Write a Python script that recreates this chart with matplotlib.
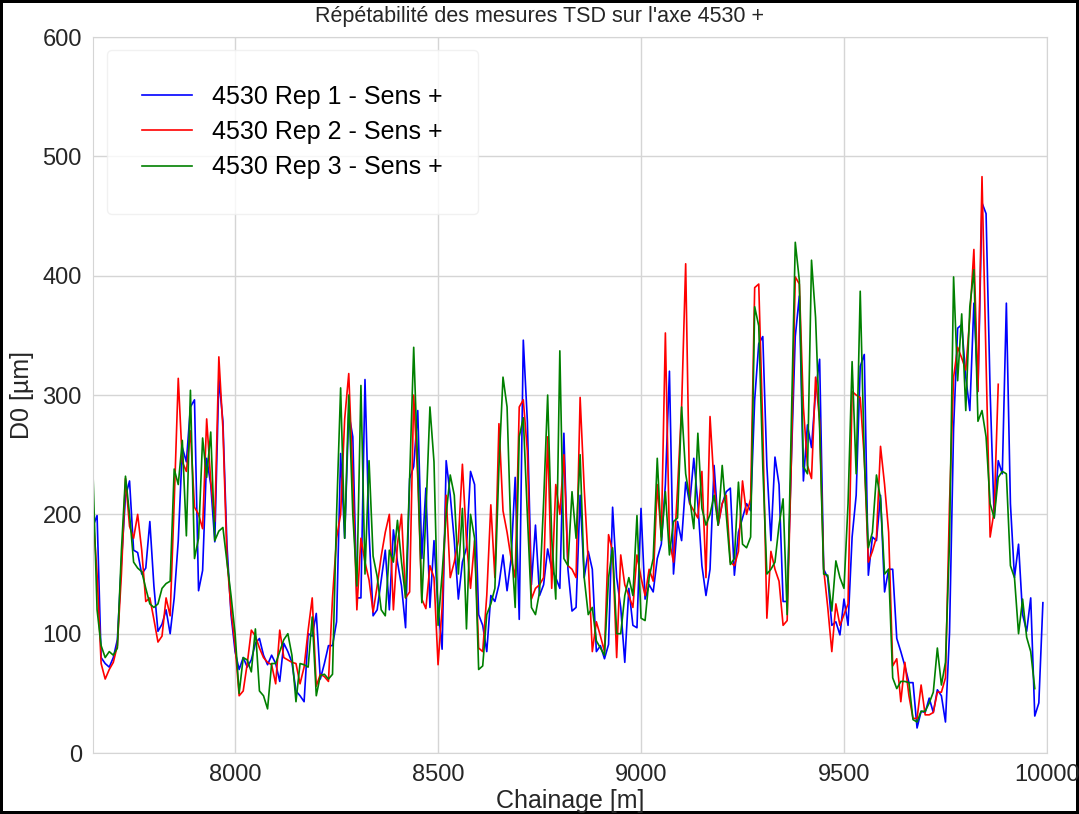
import matplotlib
matplotlib.use("Agg")
import numpy as np
import matplotlib.pyplot as plt

# chainage step of 10 m starting at 7650 m
start = 7650
step = 10

rep1 = [190, 199, 80, 75, 72, 80, 95, 160, 215, 228,
        170, 168, 150, 155, 194, 140, 102, 108, 120, 100,
        130, 178, 256, 244, 290, 296, 136, 153, 247, 225,
        177, 314, 278, 174, 116, 85, 70, 80, 72, 78,
        92, 96, 82, 74, 82, 75, 60, 92, 85, 76,
        52, 48, 43, 100, 98, 117, 62, 75, 90, 90,
        110, 251, 180, 285, 265, 130, 130, 313, 185, 115,
        120, 145, 170, 120, 187, 160, 140, 105, 230, 240,
        287, 163, 222, 122, 178, 122, 87, 245, 216, 178,
        129, 160, 172, 236, 225, 116, 107, 85, 132, 127,
        141, 166, 136, 163, 231, 112, 346, 278, 141, 191,
        132, 141, 171, 154, 147, 138, 268, 154, 119, 122,
        216, 147, 169, 154, 85, 90, 79, 91, 206, 147,
        122, 76, 138, 107, 105, 205, 129, 141, 135, 163,
        175, 225, 320, 150, 194, 178, 227, 209, 247, 209,
        157, 132, 154, 241, 191, 209, 219, 222, 149, 185,
        197, 209, 203, 296, 343, 349, 241, 178, 248, 225,
        127, 127, 241, 349, 383, 228, 275, 256, 303, 330,
        154, 147, 107, 110, 99, 129, 107, 181, 216, 324,
        334, 149, 181, 178, 216, 135, 154, 154, 96, 85,
        73, 59, 59, 21, 35, 34, 46, 34, 53, 48,
        26, 101, 272, 356, 359, 315, 287, 377, 303, 461,
        452, 303, 197, 245, 234, 377, 209, 147, 175, 116,
        102, 130, 31, 42, 126]

rep2 = [200, 150, 75, 62, 70, 76, 90, 150, 230, 190,
        180, 200, 170, 127, 130, 112, 93, 98, 130, 115,
        210, 314, 244, 236, 270, 206, 200, 188, 280, 228,
        194, 332, 272, 163, 120, 90, 48, 52, 75, 103,
        98, 88, 80, 76, 74, 58, 103, 80, 78, 76,
        75, 58, 72, 103, 130, 56, 66, 64, 60, 130,
        180, 200, 280, 318, 230, 120, 180, 160, 145, 118,
        140, 165, 185, 200, 120, 175, 200, 130, 135, 300,
        230, 129, 121, 157, 147, 74, 122, 216, 147, 160,
        178, 242, 178, 138, 178, 88, 85, 132, 208, 147,
        276, 203, 185, 163, 147, 290, 296, 253, 129, 138,
        141, 147, 265, 138, 225, 200, 250, 157, 154, 147,
        298, 222, 160, 85, 110, 98, 85, 183, 169, 80,
        166, 141, 132, 122, 166, 147, 132, 154, 144, 225,
        181, 352, 178, 160, 222, 290, 410, 209, 203, 197,
        236, 147, 282, 225, 191, 209, 216, 160, 157, 169,
        228, 200, 213, 390, 393, 272, 113, 169, 154, 144,
        107, 111, 241, 399, 393, 290, 241, 230, 315, 278,
        154, 122, 85, 125, 107, 116, 125, 303, 300, 298,
        247, 160, 169, 181, 257, 225, 185, 73, 79, 43,
        76, 48, 29, 29, 57, 32, 32, 34, 51, 51,
        63, 209, 315, 340, 331, 321, 365, 422, 303, 483,
        328, 181, 203, 309]

rep3 = [234, 120, 90, 80, 85, 82, 88, 170, 232, 200,
        160, 155, 152, 138, 125, 122, 125, 138, 142, 144,
        238, 225, 262, 182, 304, 163, 180, 264, 231, 269,
        178, 186, 189, 160, 132, 100, 50, 80, 78, 68,
        104, 52, 48, 37, 75, 75, 85, 95, 100, 82,
        43, 75, 74, 72, 114, 48, 65, 66, 62, 66,
        200, 306, 180, 300, 200, 140, 308, 150, 245, 165,
        148, 120, 115, 170, 160, 195, 160, 130, 230, 340,
        240, 126, 200, 290, 244, 107, 150, 200, 233, 216,
        150, 205, 104, 200, 180, 70, 73, 116, 125, 138,
        240, 315, 290, 178, 122, 265, 281, 200, 122, 116,
        135, 210, 300, 180, 129, 337, 163, 157, 219, 180,
        250, 147, 116, 122, 94, 88, 82, 147, 172, 100,
        100, 132, 147, 132, 199, 113, 111, 147, 163, 247,
        178, 219, 166, 194, 197, 290, 234, 213, 188, 268,
        205, 191, 200, 216, 191, 241, 200, 158, 163, 227,
        175, 172, 181, 374, 358, 240, 150, 154, 160, 191,
        213, 116, 272, 428, 396, 240, 234, 413, 365, 272,
        150, 149, 119, 161, 147, 138, 209, 328, 234, 387,
        247, 172, 185, 233, 213, 150, 154, 63, 54, 60,
        60, 59, 28, 26, 35, 35, 42, 51, 88, 57,
        76, 178, 399, 312, 368, 287, 374, 405, 278, 287,
        265, 209, 197, 231, 236, 234, 157, 147, 100, 129,
        97, 85, 54]

labels = ["4530 Rep 1 - Sens +", "4530 Rep 2 - Sens +", "4530 Rep 3 - Sens +"]
colors = ["blue", "red", "green"]

plt.rcParams["font.family"] = ["Liberation Sans", "DejaVu Sans"]

fig = plt.figure(figsize=(10.79, 8.14), dpi=100, edgecolor="black", linewidth=3)
ax = fig.add_axes([0.0862, 0.0749, 0.8841, 0.8796])

for serie, lab, col in zip([rep1, rep2, rep3], labels, colors):
    x = start + step * np.arange(len(serie))
    ax.plot(x, serie, color=col, lw=1.2, label=lab)

ax.set_xlim(7650, 10000)
ax.set_ylim(0, 600)
ax.set_xticks([8000, 8500, 9000, 9500, 10000])
ax.set_yticks([0, 100, 200, 300, 400, 500, 600])
ax.grid(True, color="#d5d5d5", lw=1)
ax.set_axisbelow(True)
for sp in ax.spines.values():
    sp.set_color("#d5d5d5")
ax.tick_params(length=0, labelsize=17, colors="#262626", pad=8)

ax.set_xlabel("Chainage [m]", fontsize=18, color="#262626", labelpad=2)
ax.set_ylabel("D0 [µm]", fontsize=18, color="#262626", labelpad=6)
fig.suptitle("Répétabilité des mesures TSD sur l'axe 4530 +", fontsize=15.5,
             color="#262626", y=0.993)

leg = ax.legend(loc="upper left", fontsize=18, borderpad=1.4, labelspacing=0.45,
                handlelength=2.0, handletextpad=0.8, fancybox=True,
                borderaxespad=0, bbox_to_anchor=(0.0147, 0.982))
leg.get_frame().set_edgecolor("#eeeeee")
leg.get_frame().set_facecolor("white")
leg.get_frame().set_alpha(0.8)

fig.savefig("out.png", dpi=100, edgecolor=fig.get_edgecolor())
